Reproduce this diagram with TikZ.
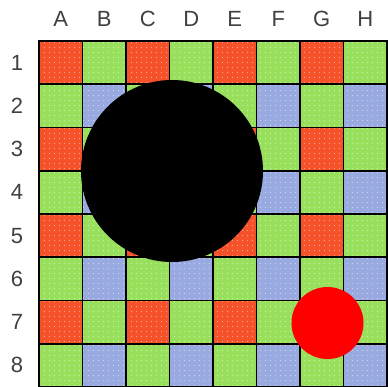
\documentclass[tikz,border=0pt]{standalone}
\usepackage{fontspec}
\setmainfont{Liberation Sans}
\definecolor{sensred}{RGB}{245, 82, 42}
\definecolor{sensgreen}{RGB}{152, 224, 92}
\definecolor{sensblue}{RGB}{152, 170, 224}
\usepackage{tikz}
\usetikzlibrary{positioning, patterns.meta}
\tikzdeclarepattern{
  name=celldots,
  type=uncolored,
  bounding box={(0,0) and (5.4pt,5.4pt)},
  tile size={(5.4pt,5.4pt)},
  code={\pgfpathcircle{\pgfpoint{2.7pt}{2.7pt}}{0.75pt}\pgfusepath{fill}}
}

\begin{document}
\begin{tikzpicture}[
  x=1pt, y=-1pt,
  cell/.style={draw=black, line width=1.8pt},
  lbl/.style={font=\fontsize{22}{22}\selectfont, text=black!75}
]
  \useasboundingbox (0,0) rectangle (387,387);
  % sensor cells
  \foreach \r in {0,...,7} {
    \foreach \c in {0,...,7} {
      \pgfmathtruncatemacro{\rr}{mod(\r,2)}
      \pgfmathtruncatemacro{\cc}{mod(\c,2)}
      \ifnum\rr=0
        \ifnum\cc=0 \def\col{sensred}\else \def\col{sensgreen}\fi
      \else
        \ifnum\cc=0 \def\col{sensgreen}\else \def\col{sensblue}\fi
      \fi
      \fill[\col] (39+\c*43.5, 41+\r*43.25) rectangle ++(43.5, 43.25);
      \fill[pattern=celldots, pattern color=\col!55!white]
        (39+\c*43.5, 41+\r*43.25) rectangle ++(43.5, 43.25);
      \draw[cell] (39+\c*43.5, 41+\r*43.25) rectangle ++(43.5, 43.25);
    }
  }
  % column and row labels
  \foreach \l [count=\i from 0] in {A,B,C,D,E,F,G,H}
    \node[lbl] (col\l) at (60.75+\i*43.5, 19) {\l};
  \foreach \i in {1,...,8}
    \node[lbl] (row\i) at (17, 62.6+\i*43.25-43.25) {\i};
  % spots
  \fill[black] (172, 171) circle (91pt);
  \fill[red] (327.5, 323) circle (36pt);
\end{tikzpicture}
\end{document}
